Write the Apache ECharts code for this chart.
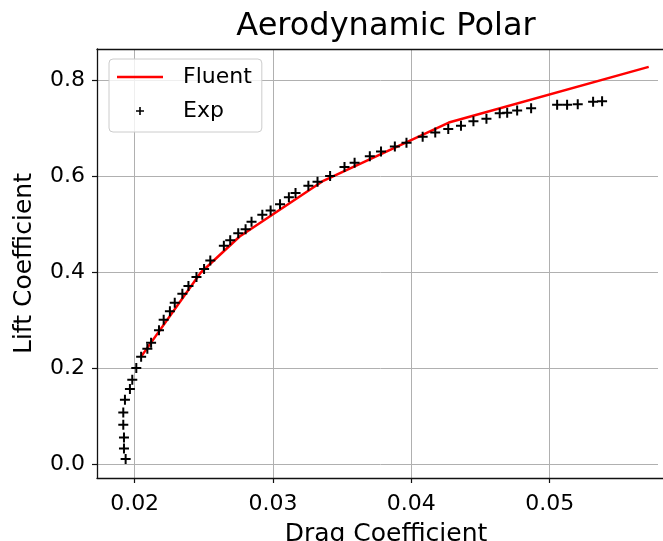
<!DOCTYPE html>
<html><head><meta charset="utf-8">
<script src="https://cdn.jsdelivr.net/npm/echarts@6/dist/echarts.min.js"></script>
<style>html,body{margin:0;padding:0;background:#fff;overflow:hidden}#c{width:663px;height:541px}</style>
</head><body><div id="c"></div>
<script>
const titleText = 'Aerodynamic Polar';
const xName = 'Drag Coefficient';
const yName = 'Lift Coefficient';
const xTicks = [0.02, 0.03, 0.04, 0.05];
const yTicks = [0.0, 0.2, 0.4, 0.6, 0.8];

const fluentDrag = [0.02047, 0.02477, 0.02759, 0.03356, 0.04271, 0.05716];
const fluentLift = [0.2242, 0.3992, 0.4749, 0.5896, 0.7126, 0.8288];

const expDrag = [0.01935, 0.01923, 0.01923, 0.01918, 0.01918, 0.01930, 0.01966, 0.01983, 0.02012, 0.02047,
  0.02092, 0.02119, 0.02176, 0.02210, 0.02255, 0.02290, 0.02345, 0.02389, 0.02447, 0.02502,
  0.02547, 0.02645, 0.02691, 0.02749, 0.02802, 0.02845, 0.02923, 0.02983, 0.03051, 0.03115,
  0.03163, 0.03256, 0.03322, 0.03413, 0.03517, 0.03590, 0.03700, 0.03781, 0.03881, 0.03965,
  0.04082, 0.04173, 0.04267, 0.04359, 0.04449, 0.04543, 0.04639, 0.04693, 0.04765, 0.04866,
  0.05054, 0.05126, 0.05203, 0.05314, 0.05379];
const expLift = [0.0106, 0.0327, 0.0557, 0.0822, 0.1078, 0.1343, 0.1566, 0.1760, 0.2004, 0.2240,
  0.2407, 0.2532, 0.2792, 0.3011, 0.3189, 0.3366, 0.3554, 0.3714, 0.3902, 0.4069,
  0.4246, 0.4555, 0.4669, 0.4815, 0.4899, 0.5055, 0.5201, 0.5291, 0.5420, 0.5566,
  0.5654, 0.5806, 0.5890, 0.6008, 0.6198, 0.6286, 0.6425, 0.6521, 0.6626, 0.6703,
  0.6828, 0.6918, 0.6989, 0.7057, 0.7155, 0.7203, 0.7318, 0.7328, 0.7376, 0.7426,
  0.7495, 0.7495, 0.7506, 0.7562, 0.7572];

const FONT = 'DejaVu Sans';
const plusPath = 'path://M4,0L6,0L6,4L10,4L10,6L6,6L6,10L4,10L4,6L0,6L0,4L4,4Z';
const linePath = 'path://M0,0L46,0L46,2.5L0,2.5Z';
const X_MIN = 0.01728, X_MAX = 0.05906;
const Y_MIN = -0.029, Y_MAX = 0.866;
const SPINE = {show: true, onZero: false, lineStyle: {color: '#111', width: 1.3}};
const GRIDLINE = {show: true, lineStyle: {color: '#b0b0b0', width: 1}};

const chart = echarts.init(document.getElementById('c'), null, {renderer: 'canvas'});
chart.setOption({
  animation: false,
  backgroundColor: '#ffffff',
  textStyle: {fontFamily: FONT},
  title: {
    text: titleText, left: 386, top: 11, textAlign: 'center', padding: 0,
    textStyle: {fontFamily: FONT, fontSize: 32, fontWeight: 'normal', color: '#000'}
  },
  legend: {
    orient: 'vertical', left: 109, top: 59, padding: [7, 10, 10, 8],
    itemWidth: 46, itemHeight: 8, itemGap: 12, selectedMode: false,
    backgroundColor: 'rgba(255,255,255,0.8)', borderColor: '#cccccc', borderWidth: 1, borderRadius: 4,
    textStyle: {fontFamily: FONT, fontSize: 22, color: '#000', lineHeight: 22, padding: [0, 0, 0, 15]},
    data: [
      {name: 'Fluent', icon: linePath, itemStyle: {color: '#ff0000', borderWidth: 0}},
      {name: 'Exp', icon: plusPath, itemStyle: {color: '#000000', borderWidth: 0}}
    ]
  },
  graphic: [{
    type: 'rect', silent: true, z: 100,
    shape: {x: 658, y: 51, width: 6, height: 426},
    style: {fill: '#ffffff'}
  }],
  grid: {
    left: 97, right: -12, top: 49, bottom: 63, containLabel: false, outerBoundsMode: 'none', show: false
  },
  xAxis: [{
    type: 'value', min: X_MIN, max: X_MAX, position: 'bottom',
    name: xName, nameLocation: 'middle', nameGap: 44,
    nameTextStyle: {fontFamily: FONT, fontSize: 25, color: '#000'},
    axisLine: SPINE,
    axisTick: {show: true, inside: false, length: 5, customValues: xTicks, lineStyle: {color: '#111', width: 1.2}},
    axisLabel: {customValues: xTicks, formatter: v => v.toFixed(2), fontFamily: FONT, fontSize: 22, color: '#000', margin: 15},
    splitLine: GRIDLINE
  }, {
    type: 'value', min: X_MIN, max: X_MAX, position: 'top',
    axisLine: SPINE, axisTick: {show: false}, axisLabel: {show: false}, splitLine: {show: false}
  }],
  yAxis: {
    type: 'value', min: Y_MIN, max: Y_MAX, position: 'left',
    name: yName, nameLocation: 'middle', nameGap: 60, nameRotate: 90,
    nameTextStyle: {fontFamily: FONT, fontSize: 25, color: '#000'},
    axisLine: SPINE,
    axisTick: {show: true, inside: false, length: 5, customValues: yTicks, lineStyle: {color: '#111', width: 1.2}},
    axisLabel: {customValues: yTicks, formatter: v => v.toFixed(1), fontFamily: FONT, fontSize: 22, color: '#000', margin: 12},
    splitLine: GRIDLINE
  },
  series: [
    {
      type: 'line', name: 'Fluent', z: 2, xAxisIndex: 0,
      data: fluentDrag.map((x, i) => [x, fluentLift[i]]),
      symbol: 'none', showSymbol: false,
      lineStyle: {color: '#ff0000', width: 2.5}, itemStyle: {color: '#ff0000'}
    },
    {
      type: 'scatter', name: 'Exp', z: 3, xAxisIndex: 0,
      data: expDrag.map((x, i) => [x, expLift[i]]),
      symbol: plusPath, symbolSize: 10,
      itemStyle: {color: '#000000', opacity: 1}
    }
  ]
});
</script></body></html>
